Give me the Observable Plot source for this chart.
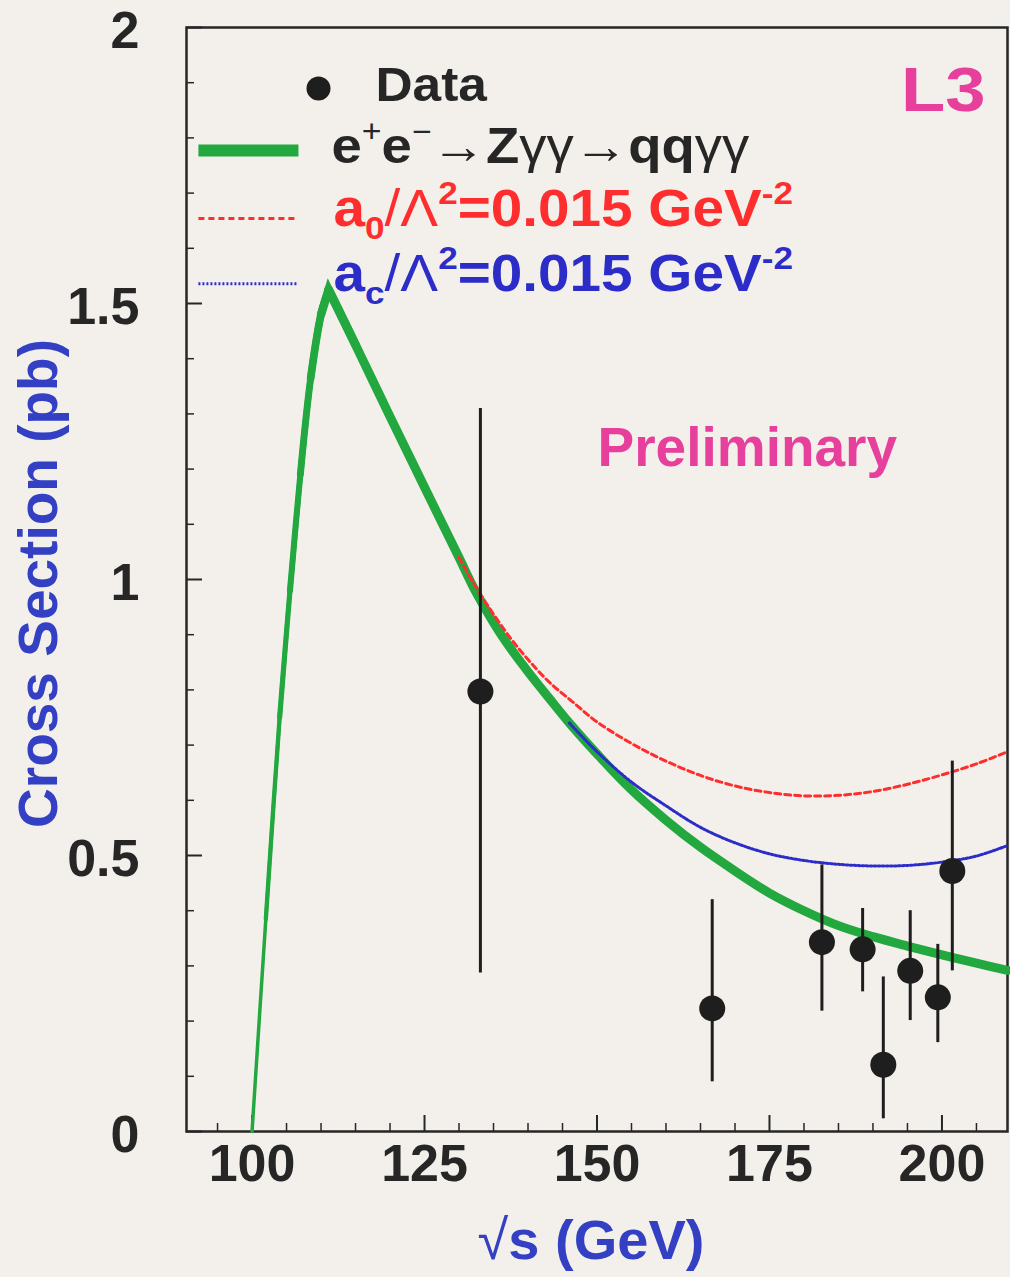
<!DOCTYPE html>
<html><head><meta charset="utf-8">
<script src="https://cdn.jsdelivr.net/npm/d3@7"></script>
<script src="https://cdn.jsdelivr.net/npm/@observablehq/plot@0.6"></script>
<style>
html,body{margin:0;padding:0;background:#f3f0eb;}
#chart svg{display:block;}
</style></head><body><div id="chart"></div>
<script>
// ---- Data ----
const sqrtS   = [133.1, 166.7, 182.6, 188.5, 191.5, 195.4, 199.4, 201.5];
const sigma   = [0.797, 0.223, 0.343, 0.330, 0.121, 0.291, 0.243, 0.472];
const sigmaHi = [1.310, 0.420, 0.483, 0.404, 0.280, 0.400, 0.339, 0.671];
const sigmaLo = [0.287, 0.090, 0.218, 0.253, 0.023, 0.201, 0.161, 0.291];

// SM prediction e+e- -> Z gamma gamma -> qq gamma gamma
const smRiseX = [100, 102, 104, 105.5, 107, 108.5, 110, 111.1];
const smRiseY = [0, 0.385, 0.75, 0.98, 1.19, 1.365, 1.48, 1.525];
const smFallX = [111.1, 115, 120, 125, 130, 132, 134, 136, 138, 140, 143, 146, 150, 155, 160, 165, 170, 175, 180, 185, 190, 195, 200, 205, 209.5];
const smFallY = [1.525, 1.425, 1.295, 1.167, 1.04, 0.988, 0.943, 0.902, 0.866, 0.833, 0.786, 0.74, 0.684, 0.619, 0.564, 0.515, 0.472, 0.432, 0.400, 0.373, 0.353, 0.336, 0.320, 0.305, 0.292];
// anomalous couplings
const a0X = [130, 132.5, 135, 137.5, 140, 143, 146.5, 150, 155, 160, 165, 170, 175, 180, 185, 190, 195, 200, 205, 209.5];
const a0Y = [1.04, 0.985, 0.937, 0.893, 0.855, 0.815, 0.778, 0.742, 0.703, 0.671, 0.645, 0.626, 0.614, 0.608, 0.609, 0.616, 0.629, 0.646, 0.666, 0.688];
const acX = [146, 150, 155, 160, 165, 170, 175, 180, 185, 190, 195, 200, 205, 209.5];
const acY = [0.74, 0.688, 0.633, 0.59, 0.551, 0.523, 0.503, 0.491, 0.484, 0.481, 0.482, 0.488, 0.499, 0.518];

const xMajor = [100, 125, 150, 175, 200];
const xMinor = [95, 105, 110, 115, 120, 130, 135, 140, 145, 155, 160, 165, 170, 180, 185, 190, 195, 205];
const yMajor = [0, 0.5, 1, 1.5, 2];
const yTickLabels = ["0", "0.5", "1", "1.5", "2"];
const yMinor = [0.1, 0.2, 0.3, 0.4, 0.6, 0.7, 0.8, 0.9, 1.1, 1.2, 1.3, 1.4, 1.6, 1.7, 1.8, 1.9];

const legendRowY = [1.777, 1.654, 1.536];   // legend sample rows (y units)
const legendSampleX = [92.3, 106.8];

// ---- styling ----
const GREEN = "#22a83f", RED = "#ff2e2e", BLUE = "#2c2cc8", MAGENTA = "#e6409c", AXISBLUE = "#3340c4", INK = "#262626";
const FONT = "'Liberation Sans', Arial, Helvetica, sans-serif";

const points = sqrtS.map((x, i) => ({x, y: sigma[i], lo: sigmaLo[i], hi: sigmaHi[i]}));
const rise = smRiseX.map((x, i) => ({x, y: smRiseY[i]}));
const fall = smFallX.map((x, i) => ({x, y: smFallY[i]}));
// the band widens gradually toward the peak: stack partial strokes of growing width
const riseLayers = smRiseX.slice(0, -2).map((x0, i) => ({data: rise.filter(d => d.x >= x0), w: 3.5 + i * 0.85}));
const peakCap = rise.slice(-2).concat(fall.slice(1, 2));
const a0 = a0X.map((x, i) => ({x, y: a0Y[i]}));
const ac = acX.map((x, i) => ({x, y: acY[i]}));

const richSegs = {
  l2: [{t:"e"},{t:"+",sup:1,w:"normal"},{t:"e"},{t:"−",sup:1,w:"normal"},{t:"→",w:"normal"},{t:"Z"},{t:"γγ",w:"normal"},{t:"→",w:"normal"},{t:"qq"},{t:"γγ",w:"normal"}],
  l3: [{t:"a"},{t:"0",sub:1},{t:"/",w:"normal"},{t:"Λ",w:"normal"},{t:"2",sup:1},{t:"=0.015 GeV"},{t:"-2",sup:1}],
  l4: [{t:"a"},{t:"c",sub:1},{t:"/",w:"normal"},{t:"Λ",w:"normal"},{t:"2",sup:1},{t:"=0.015 GeV"},{t:"-2",sup:1}],
  xl: [{t:"√",w:"normal"},{t:"s (GeV)"}]
};
const plain = k => richSegs[k].map(s => s.t).join("");
const richSize = {l2: 50, l3: 52, l4: 52, xl: 56};
// horizontal stretch of some texts (the reference lettering is wider than the font)
const stretchOf = [["Data", 1.07], [plain("l2"), 1.09], [plain("l3"), 1.09], [plain("l4"), 1.09], ["L3", 1.15]];

const FW = 821, FH = 1104; // frame size in px
const plot = Plot.plot({
  width: 1010, height: 1277,
  marginLeft: 186, marginRight: 3, marginTop: 27, marginBottom: 146,
  x: {domain: [90.5, 209.5]},
  y: {domain: [0, 2]},
  style: {background: "#f3f0eb", fontFamily: FONT, fontWeight: "bold", color: INK},
  marks: [
    Plot.axisX(xMajor, {tickSize: 0, tickPadding: 13, fontSize: 52, fontWeight: "bold", fill: INK, label: null, tickFormat: d => String(d)}),
    Plot.axisY(yMajor, {tickSize: 0, tickPadding: 47, fontSize: 52, fontWeight: "bold", fill: INK, label: null, dy: 4,
      tickFormat: d => yTickLabels[yMajor.indexOf(d)]}),
    Plot.tickX(xMajor, {x: d => d, insetTop: FH - 16, stroke: INK, strokeWidth: 2}),
    Plot.tickX(xMinor, {x: d => d, insetTop: FH - 8, stroke: INK, strokeWidth: 1.5}),
    Plot.tickY(yMajor, {y: d => d, insetRight: FW - 16, stroke: INK, strokeWidth: 2}),
    Plot.tickY(yMinor, {y: d => d, insetRight: FW - 8, stroke: INK, strokeWidth: 1.5}),
    Plot.frame({stroke: INK, strokeWidth: 2.5}),

    // SM curve (band thickening toward the peak)
    ...riseLayers.map(L => Plot.line(L.data, {x: "x", y: "y", stroke: GREEN, strokeWidth: L.w, curve: "catmull-rom"})),
    Plot.line(peakCap, {x: "x", y: "y", stroke: GREEN, strokeWidth: 8.5, curve: "linear", strokeLinejoin: "miter", strokeMiterlimit: 4}),
    Plot.line(fall, {x: "x", y: "y", stroke: GREEN, strokeWidth: 9, curve: "catmull-rom"}),
    // anomalous coupling curves
    Plot.line(a0, {x: "x", y: "y", stroke: RED, strokeWidth: 3, strokeDasharray: "6,4", curve: "catmull-rom"}),
    Plot.line(ac, {x: "x", y: "y", stroke: BLUE, strokeWidth: 3, strokeDasharray: "2,2", curve: "catmull-rom"}),

    // data
    Plot.ruleX(points, {x: "x", y1: "lo", y2: "hi", stroke: "#1e1e1e", strokeWidth: 3}),
    Plot.dot(points, {x: "x", y: "y", r: 13, fill: "#1e1e1e", stroke: "none"}),

    // legend samples
    Plot.dot([0], {frameAnchor: "top-left", dx: 132, dy: 61, r: 12, fill: "#1e1e1e", stroke: "none"}),
    Plot.ruleY([legendRowY[0]], {y: d => d, x1: legendSampleX[0], x2: legendSampleX[1], stroke: GREEN, strokeWidth: 12}),
    Plot.ruleY([legendRowY[1]], {y: d => d, x1: legendSampleX[0], x2: legendSampleX[1], stroke: RED, strokeWidth: 3, strokeDasharray: "6,4"}),
    Plot.ruleY([legendRowY[2]], {y: d => d, x1: legendSampleX[0], x2: legendSampleX[1], stroke: BLUE, strokeWidth: 3, strokeDasharray: "2,2"}),

    // legend texts
    Plot.text(["Data"], {frameAnchor: "top-left", dx: 189, dy: 73, lineAnchor: "bottom", textAnchor: "start", fontSize: 48, fontWeight: "bold", fill: INK}),
    Plot.text([plain("l2")], {frameAnchor: "top-left", dx: 145, dy: 135, lineAnchor: "bottom", textAnchor: "start", fontSize: richSize.l2, fontWeight: "bold", fill: INK}),
    Plot.text([plain("l3")], {frameAnchor: "top-left", dx: 147, dy: 198, lineAnchor: "bottom", textAnchor: "start", fontSize: richSize.l3, fontWeight: "bold", fill: RED}),
    Plot.text([plain("l4")], {frameAnchor: "top-left", dx: 147, dy: 263, lineAnchor: "bottom", textAnchor: "start", fontSize: richSize.l4, fontWeight: "bold", fill: BLUE}),

    Plot.text(["L3"], {frameAnchor: "top-right", dx: -22, dy: 83, lineAnchor: "bottom", textAnchor: "end", fontSize: 63, fontWeight: "bold", fill: MAGENTA}),
    Plot.text(["Preliminary"], {frameAnchor: "top-left", dx: 411, dy: 438, lineAnchor: "bottom", textAnchor: "start", fontSize: 55, fontWeight: "bold", fill: MAGENTA}),

    // axis titles
    Plot.text(["Cross Section (pb)"], {frameAnchor: "left", dx: -147, dy: 4, rotate: -90, lineAnchor: "middle", textAnchor: "middle", fontSize: 55, fontWeight: "bold", fill: AXISBLUE}),
    Plot.text([plain("xl")], {frameAnchor: "bottom", dx: -6, dy: 127, lineAnchor: "bottom", textAnchor: "middle", fontSize: richSize.xl, fontWeight: "bold", fill: AXISBLUE})
  ]
});

const allTexts = () => Array.from(plot.querySelectorAll("text"));

function applyRich(key) {
  const target = plain(key);
  const t = allTexts().find(el => el.textContent === target);
  if (!t) return;
  const fs = richSize[key];
  while (t.firstChild) t.removeChild(t.firstChild);
  let off = 0;
  for (const s of richSegs[key]) {
    const ts = document.createElementNS("http://www.w3.org/2000/svg", "tspan");
    const shift = s.sup ? -0.42 * fs : s.sub ? 0.26 * fs : 0;
    ts.setAttribute("dy", shift - off);
    off = shift;
    if (s.sup || s.sub) ts.setAttribute("font-size", 0.62 * fs);
    if (s.w) ts.setAttribute("font-weight", s.w);
    ts.textContent = s.t;
    t.appendChild(ts);
  }
}
["l2", "l3", "l4", "xl"].forEach(applyRich);

for (const [label, s] of stretchOf) {
  const el = allTexts().find(e => e.textContent === label);
  if (!el) continue;
  const ax = parseFloat(el.getAttribute("x")) || 0;
  const tr = el.getAttribute("transform") || "";
  el.setAttribute("transform", `${tr} translate(${ax},0) scale(${s},1) translate(${-ax},0)`.trim());
}

document.getElementById("chart").appendChild(plot);
</script>
</body></html>
